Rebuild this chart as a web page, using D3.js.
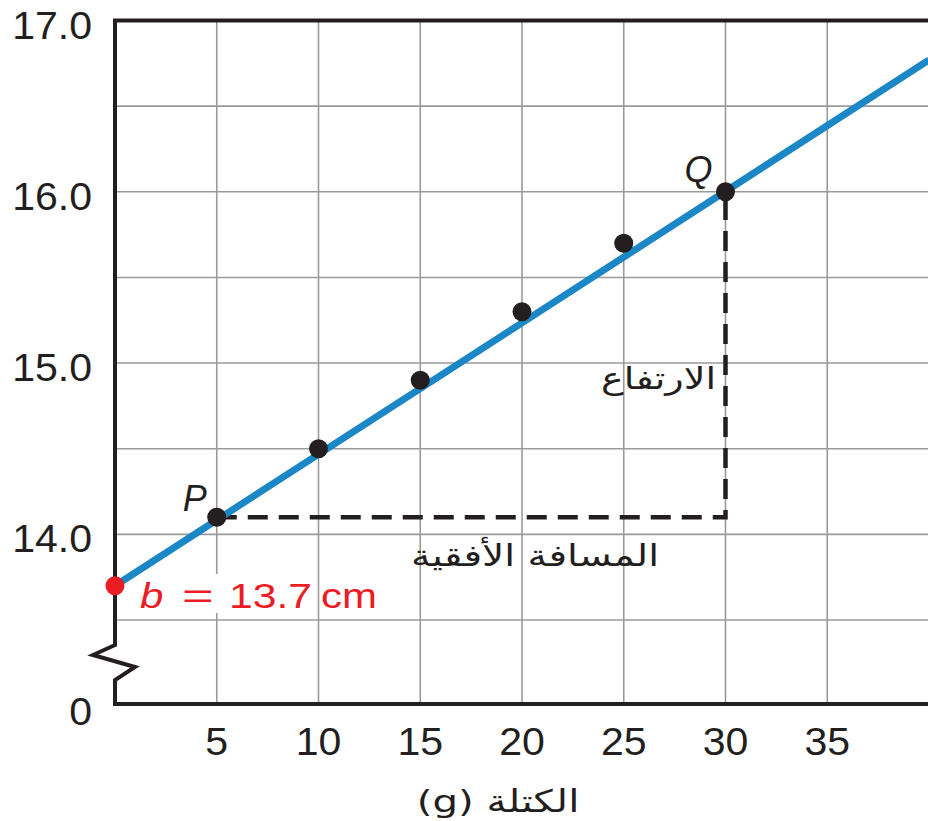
<!DOCTYPE html>
<html><head><meta charset="utf-8">
<script src="https://cdn.jsdelivr.net/npm/d3@7"></script>
<style>
body{margin:0;background:#fff;}
svg{display:block;}
</style></head>
<body><svg id="c" width="928" height="821"></svg>
<script>
// ---- data ----
const massValues = [5, 10, 15, 20, 25, 30];
const lengthValues = [14.1, 14.5, 14.9, 15.3, 15.7, 16.0];
const fitX = [0, 40];
const fitY = [13.7, 16.77];
const interceptValue = 13.7;
const xTickValues = [5, 10, 15, 20, 25, 30, 35];
const xGridValues = [5, 10, 15, 20, 25, 30, 35, 40];
const yTickValues = [0, 14, 15, 16, 17];
const yTickLabels = ["0", "14.0", "15.0", "16.0", "17.0"];
const yGridValues = [13.5, 14, 14.5, 15, 15.5, 16, 16.5, 17];
const pointP = {x: 5, y: 14.1, label: "P"};
const pointQ = {x: 30, y: 16.0, label: "Q"};
const xAxisTitle = "الكتلة (g)";
const riseLabel = "الارتفاع";
const runLabel = "المسافة الأفقية";
const interceptParts = ["b", "=", "13.7", "cm"];

const svg = d3.select("#c");
const ink = "#231f20";
const red = "#ec1c24";
const latin = "Liberation Sans, Arial, sans-serif";
const arabic = "DejaVu Sans, sans-serif";
const x = d3.scaleLinear().domain([0, 40]).range([115, 929]);
const y = d3.scaleLinear().domain([0, 13.5, 17]).range([704, 620, 20.5]);

// grid
const g = svg.append("g");
g.selectAll("line.v").data(xGridValues).join("line")
  .attr("x1", d => x(d)).attr("x2", d => x(d))
  .attr("y1", y(17)).attr("y2", y(0))
  .attr("stroke", "#9a9a9c").attr("stroke-width", 1.6);
g.selectAll("line.h").data(yGridValues).join("line")
  .attr("x1", x(0)).attr("x2", 928)
  .attr("y1", d => y(d)).attr("y2", d => y(d))
  .attr("stroke", "#9a9a9c").attr("stroke-width", 1.6);

// white patch behind intercept label
svg.append("rect").attr("x", 138).attr("y", 574).attr("width", 168).attr("height", 39).attr("fill", "#fff");

// frame: top, bottom
svg.append("line").attr("x1", x(0) - 2).attr("x2", 928).attr("y1", y(17)).attr("y2", y(17))
  .attr("stroke", ink).attr("stroke-width", 4);
svg.append("line").attr("x1", x(0) - 2).attr("x2", 928).attr("y1", y(0)).attr("y2", y(0))
  .attr("stroke", ink).attr("stroke-width", 4);
// left axis with break
const bx = x(0);
svg.append("path")
  .attr("d", `M${bx},${y(17)} L${bx},645 L${bx-22},655 L${bx+20},667 L${bx},680 L${bx},${y(0)+2}`)
  .attr("fill", "none").attr("stroke", ink).attr("stroke-width", 4).attr("stroke-linejoin", "miter");

// tick labels
svg.selectAll("text.yt").data(yTickValues).join("text")
  .attr("transform", d => `translate(92,${y(d) + (d === 0 ? 21 : 18)}) scale(1.08,1)`)
  .attr("text-anchor", "end").attr("font-family", latin)
  .attr("font-size", 38).attr("fill", ink)
  .text((d, i) => yTickLabels[i]);
svg.selectAll("text.xt").data(xTickValues).join("text")
  .attr("transform", d => `translate(${x(d)},755) scale(1.08,1)`)
  .attr("text-anchor", "middle").attr("font-family", latin)
  .attr("font-size", 38).attr("fill", ink)
  .text(d => d);

// axis title
svg.append("text").attr("transform", "translate(498,812) scale(1.3,1)").attr("text-anchor", "middle")
  .attr("font-family", arabic).attr("font-size", 31).attr("fill", ink)
  .attr("direction", "rtl")
  .text(xAxisTitle);

// dashed rise/run
svg.append("path")
  .attr("d", `M${x(pointP.x)},${y(pointP.y)} L${x(pointQ.x)},${y(pointP.y)} L${x(pointQ.x)},${y(pointQ.y)}`)
  .attr("fill", "none").attr("stroke", ink).attr("stroke-width", 4.5)
  .attr("stroke-dasharray", "20,11");

// fit line
const line = d3.line().x(d => x(d[0])).y(d => y(d[1]));
svg.append("path").datum(fitX.map((v, i) => [v, fitY[i]]))
  .attr("d", line).attr("fill", "none").attr("stroke", "#1b87c7").attr("stroke-width", 7);

// points
svg.selectAll("circle.pt").data(massValues).join("circle")
  .attr("cx", d => x(d)).attr("cy", (d, i) => y(lengthValues[i]))
  .attr("r", 9.5).attr("fill", ink);
svg.append("circle").attr("cx", x(0)).attr("cy", y(interceptValue)).attr("r", 9.5).attr("fill", red);

// P, Q labels
svg.append("text").attr("x", x(pointP.x) - 34).attr("y", y(pointP.y) - 6)
  .attr("font-family", latin).attr("font-style", "italic")
  .attr("font-size", 36).attr("fill", ink).text(pointP.label);
svg.append("text").attr("x", x(pointQ.x) - 41).attr("y", y(pointQ.y) - 10)
  .attr("font-family", latin).attr("font-style", "italic")
  .attr("font-size", 36).attr("fill", ink).text(pointQ.label);

// intercept label pieces
const partX = [140, 182, 229, 321];
const partSX = [1.2, 1.55, 1.22, 1.2];
svg.selectAll("text.b").data(interceptParts).join("text")
  .attr("transform", (d, i) => `translate(${partX[i]},608) scale(${partSX[i]},1)`)
  .attr("font-family", latin).attr("font-size", 35)
  .attr("font-style", (d, i) => i === 0 ? "italic" : "normal")
  .attr("fill", red).text(d => d);

// rise / run labels
svg.append("text").attr("transform", "translate(716,389) scale(1.27,1)").attr("text-anchor", "start")
  .attr("font-family", arabic).attr("font-size", 30).attr("fill", ink)
  .attr("direction", "rtl").text(riseLabel);
svg.append("text").attr("transform", "translate(535,566) scale(1.3,1)").attr("text-anchor", "middle")
  .attr("font-family", arabic).attr("font-size", 30).attr("fill", ink)
  .attr("direction", "rtl").text(runLabel);
</script></body></html>
